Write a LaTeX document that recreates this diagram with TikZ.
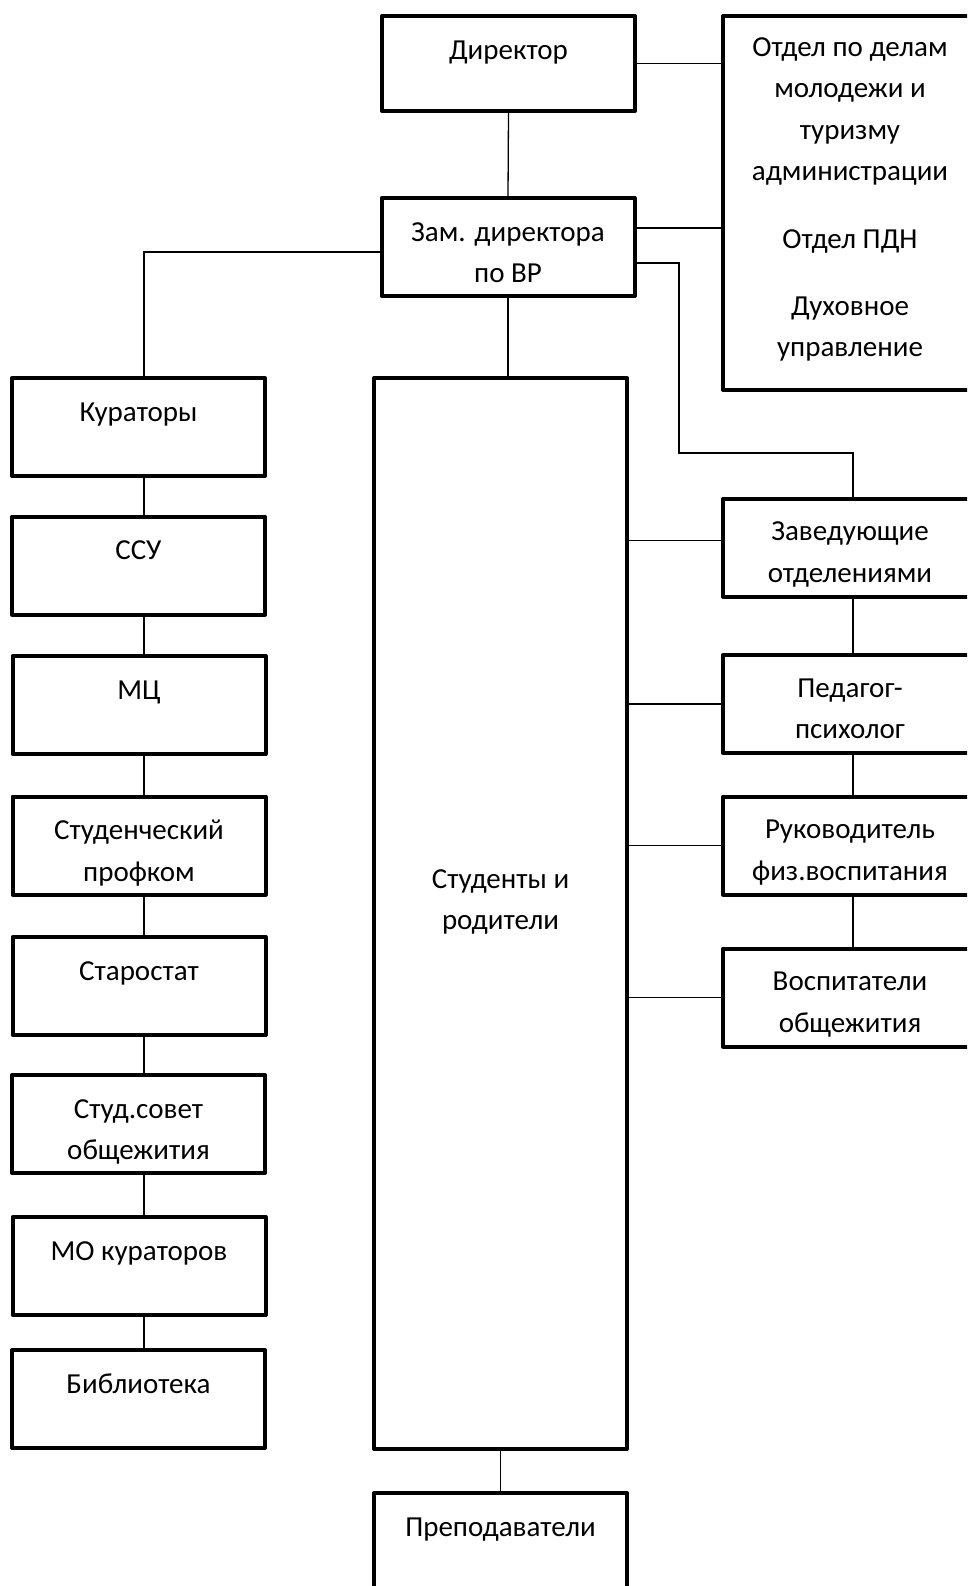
\documentclass[tikz,border=0pt]{standalone}
\usepackage{fontspec}
\setmainfont{Carlito}
\newcommand\lblfont{\fontsize{29}{41.5}\selectfont}
\begin{document}
\begin{tikzpicture}[x=1pt,y=-1pt,
  box/.style={draw, line width=4pt, line join=round, inner sep=0pt, minimum width=253pt, minimum height=98pt},
  lbl/.style={font=\lblfont, align=center, inner sep=0pt, anchor=north},
  conn/.style={line width=1.3pt}]
\useasboundingbox (0,0) rectangle (967,1586);
\clip (0,0) rectangle (967,1586);
% top / centre column
\node[box, minimum height=95pt] (dir) at (508.5,63.5) {};
\node[box] (zam) at (508,247) {};
\node[box, minimum width=254pt, minimum height=374pt] (otd) at (850,203) {};
\node[box, minimum height=1071pt] (stu) at (500.5,913.5) {};
\node[box, minimum height=107pt] (prep) at (500.5,1546.5) {};
% left column
\node[box] (kur)  at (138.5,427) {};
\node[box] (ssu)  at (138.5,565.5) {};
\node[box] (mc)   at (139,705) {};
\node[box] (prof) at (139,845.5) {};
\node[box] (star) at (139,986) {};
\node[box] (sov)  at (138.5,1124) {};
\node[box] (mo)   at (139,1266) {};
\node[box] (bib)  at (138.5,1399) {};
% right column
\node[box, minimum width=254pt] (zav) at (850,547.5) {};
\node[box, minimum width=254pt] (ped) at (850,704) {};
\node[box, minimum width=254pt] (ruk) at (850,845.5) {};
\node[box, minimum width=254pt] (vos) at (850,997.5) {};
% labels
\node[lbl] (tdir) at ([yshift=-16pt]dir.north) {\strut Директор};
\node[lbl] (tzam) at ([yshift=-16pt]zam.north) {\strut Зам. директора\\по ВР};
\node[lbl] (totd) at ([yshift=-13pt]otd.north) {\strut Отдел по делам\\молодежи и\\туризму\\администрации\\[26pt]Отдел ПДН\\[25.5pt]Духовное\\управление};
\node[lbl] (tstu) at ([yshift=-483pt]stu.north) {\strut Студенты и\\родители};
\node[lbl] (tprep) at ([yshift=-16pt]prep.north) {\strut Преподаватели};
\node[lbl] (tkur) at ([yshift=-16pt]kur.north) {\strut Кураторы};
\node[lbl] (tssu) at ([yshift=-16pt]ssu.north) {\strut ССУ};
\node[lbl] (tmc) at ([yshift=-16pt]mc.north) {\strut МЦ};
\node[lbl] (tprof) at ([yshift=-16pt]prof.north) {\strut Студенческий\\профком};
\node[lbl] (tstar) at ([yshift=-16pt]star.north) {\strut Старостат};
\node[lbl] (tsov) at ([yshift=-16pt]sov.north) {\strut Студ.совет\\общежития};
\node[lbl] (tmo) at ([yshift=-16pt]mo.north) {\strut МО кураторов};
\node[lbl] (tbib) at ([yshift=-16pt]bib.north) {\strut Библиотека};
\node[lbl] (tzav) at ([yshift=-15pt]zav.north) {\strut Заведующие\\отделениями};
\node[lbl] (tped) at ([yshift=-15pt]ped.north) {\strut Педагог-\\психолог};
\node[lbl] (truk) at ([yshift=-15pt]ruk.north) {\strut Руководитель\\физ.воспитания};
\node[lbl] (tvos) at ([yshift=-15pt]vos.north) {\strut Воспитатели\\общежития};
% connectors
\draw[conn] (dir.south) -- (zam.north);
\draw[conn] (dir.east) -- (dir.east -| otd.west);
\coordinate (z1) at ([yshift=19pt]zam.east);
\draw[conn] (z1) -- (z1 -| otd.west);
\coordinate (z2) at ([yshift=-16pt]zam.east);
\coordinate (bend) at (679,453);
\draw[conn] (z2) -| (bend) -| ([xshift=3pt]zav.north);
\coordinate (z3) at ([yshift=-5pt]zam.west);
\draw[conn] (z3) -| ([xshift=5.5pt]kur.north);
\draw[conn] (zam.south) -- (zam.south |- stu.north);
\draw[conn] (stu.south) -- (prep.north);
\draw[conn] ([xshift=5.5pt]kur.south) -- ([xshift=5.5pt]ssu.north);
\draw[conn] ([xshift=5.5pt]ssu.south) -- ([xshift=5pt]mc.north);
\draw[conn] ([xshift=5pt]mc.south) -- ([xshift=5pt]prof.north);
\draw[conn] ([xshift=5pt]prof.south) -- ([xshift=5pt]star.north);
\draw[conn] ([xshift=5pt]star.south) -- ([xshift=5.5pt]sov.north);
\draw[conn] ([xshift=5.5pt]sov.south) -- ([xshift=5pt]mo.north);
\draw[conn] ([xshift=5pt]mo.south) -- ([xshift=5.5pt]bib.north);
\draw[conn] ([xshift=3pt]zav.south) -- ([xshift=3pt]ped.north);
\draw[conn] ([xshift=3pt]ped.south) -- ([xshift=3pt]ruk.north);
\draw[conn] ([xshift=3pt]ruk.south) -- ([xshift=3pt]vos.north);
\coordinate (r1) at ([yshift=7pt]zav.west);
\draw[conn] (r1 -| stu.east) -- (r1);
\draw[conn] (ped.west -| stu.east) -- (ped.west);
\draw[conn] (ruk.west -| stu.east) -- (ruk.west);
\draw[conn] (vos.west -| stu.east) -- (vos.west);
\end{tikzpicture}
\end{document}
